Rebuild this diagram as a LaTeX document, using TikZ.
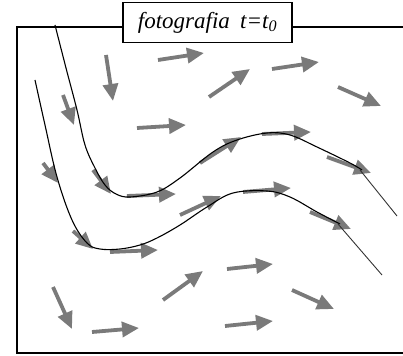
\documentclass[tikz,border=0pt]{standalone}
\usepackage{fontspec}
\setmainfont{Liberation Serif}
\usetikzlibrary{arrows.meta}
\definecolor{vecgray}{RGB}{122,122,122}
\tikzset{
  vec/.style={draw=vecgray, line width=3.8pt, -{Triangle[length=17pt 0 0,width=15pt 0 0]}},
  streamline/.style={draw=black, line width=1.1pt},
  tangentline/.style={draw=black!80, line width=0.9pt},
  frameline/.style={draw=black, line width=1.4pt},
  titlebox/.style={draw=black, line width=1.3pt, fill=white, minimum width=169pt, minimum height=40pt, inner sep=0pt, font=\fontsize{23}{26}\selectfont\itshape}
}
\begin{document}
\begin{tikzpicture}[x=1pt,y=-1pt]
\useasboundingbox (0,0) rectangle (403,355);
% frame
\draw[frameline] (403,27) -- (17,27) -- (17,353) -- (403,353);
% free vectors
\draw[vec] (106,55) -- (113,101);
\draw[vec] (158,60) -- (204,53);
\draw[vec] (209,97) -- (250,69);
\draw[vec] (272,69) -- (319,62);
\draw[vec] (338,87) -- (381,106);
\draw[vec] (137,128) -- (186,125);
\draw[vec] (53,287) -- (72,329);
\draw[vec] (92,332) -- (139,328);
\draw[vec] (163,300) -- (203,271);
\draw[vec] (227,269) -- (273,264);
\draw[vec] (292,290) -- (334,309);
\draw[vec] (225,326) -- (273,321);
% vectors along curve A
\draw[vec] (63,95) -- (74,125);
\draw[vec] (93,170) -- (111,194);
\draw[vec] (127,196) -- (176,194);
\draw[vec] (200,163) -- (241,137);
\draw[vec] (262,134) -- (311,132);
\draw[vec] (327,157) -- (371,173);
% vectors along curve B
\draw[vec] (43,163) -- (58,183);
\draw[vec] (73,231) -- (93,249);
\draw[vec] (110,252) -- (158,250);
\draw[vec] (180,215) -- (221,196);
\draw[vec] (243,192) -- (291,188);
\draw[vec] (310,212) -- (351,229);
% streamlines
\draw[streamline] plot[smooth, tension=0.6] coordinates {(55,25) (66,68) (77,110) (85,145) (95,168) (105,185) (116,194) (130,197) (157,192) (180,178) (213,152) (237,140) (267,133) (290,135) (317,147) (350,163) (362,170)};
\draw[tangentline] (360,170) -- (397,216);
\draw[streamline] plot[smooth, tension=0.6] coordinates {(35,80) (45,125) (57,177) (72,220) (87,243) (100,249) (120,249) (140,245) (157,238) (180,225) (207,207) (233,193) (267,191) (290,197) (317,212) (340,224)};
\draw[tangentline] (338,224) -- (382,275);
% title
\node[titlebox] (title) at (207.5,22.5) {fotografia\hspace{0.45em}t=t\textsubscript{0}};
\end{tikzpicture}
\end{document}
